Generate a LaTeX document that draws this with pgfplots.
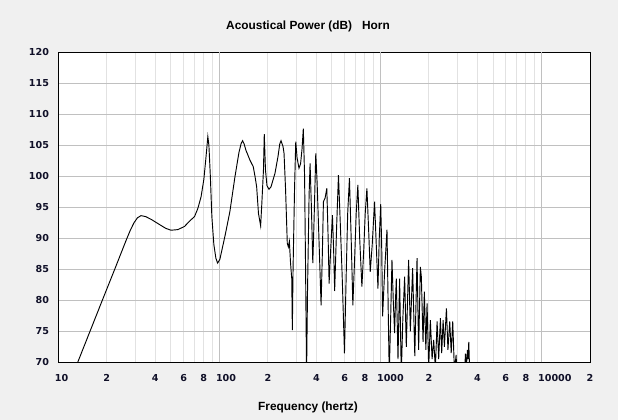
\documentclass[border=0pt]{standalone}
\usepackage{fontspec}
\setmainfont{Liberation Sans}
\newfontfamily\tickfont{DejaVu Sans}
\usepackage{pgfplots}
\pgfplotsset{compat=1.18}
\definecolor{bgc}{RGB}{240,240,240}
\definecolor{majgrid}{RGB}{192,192,192}
\definecolor{mingrid}{RGB}{226,226,226}
\definecolor{ticktxt}{RGB}{16,16,40}
\begin{document}
\begin{tikzpicture}
\fill[bgc] (0pt,0pt) rectangle (463.5pt,315pt);
\useasboundingbox (0pt,0pt) rectangle (463.5pt,315pt);
\begin{axis}[
  at={(43.72pt,43.28pt)}, anchor=south west,
  scale only axis, width=398.8pt, height=232.5pt,
  xmode=log, xmin=10, xmax=20000, ymin=70, ymax=120,
  axis background/.style={fill=white},
  axis line style={black, line width=0.75pt},
  xtick={10,20,40,60,80,100,200,400,600,800,1000,2000,4000,6000,8000,10000,20000},
  xticklabels={1\rlap{0},2,4,6,8,1\rlap{00},2,4,6,8,1\rlap{000},2,4,6,8,1\rlap{0000},2},
  minor xtick={20,30,40,50,60,70,80,90,200,300,400,500,600,700,800,900,2000,3000,4000,5000,6000,7000,8000,9000},
  xminorgrids=true, xmajorgrids=false,
  minor grid style={mingrid, line width=0.75pt},
  major grid style={majgrid, line width=0.75pt},
  extra x ticks={100,1000,10000}, extra x tick labels={},
  extra x tick style={grid=major},
  ytick={70,75,80,85,90,95,100,105,110,115,120},
  yticklabels={70,75,80,85,90,95,100,105,110,115,120},
  ymajorgrids=true,
  major tick length=0pt, minor tick length=0pt,
  /pgf/number format/assume math mode=true,
  tick label style={font=\tickfont\bfseries\fontsize{7.2}{8}\selectfont, text=ticktxt, inner sep=0pt},
  xticklabel style={anchor=north, yshift=-8.6pt},
  yticklabel style={anchor=east, xshift=-6.75pt},
]
\addplot[black, line width=0.7pt] coordinates {
(12.5,68.5) (13.2,70.0) (18.05,78.9) (22.4,85.0) (26.3,89.6) (28.0,91.3) (29.5,92.5) (31.0,93.3) (32.6,93.65)
(34.9,93.5) (38.0,93.0) (42.6,92.2) (46.5,91.6) (50.1,91.3) (55.2,91.4) (60.7,91.9) (65.5,92.8)
(70.1,93.5) (73.5,94.8) (77.0,96.7) (80.1,99.5) (82.4,102.8) (84.8,106.4) (86.1,105.0) (87.9,100)
(89.8,93.5) (92.4,89) (95.1,86.8) (97.5,86.0) (100.7,86.6) (108.2,90.3) (116.2,94.3) (124.9,99.9)
(132.2,103.8) (136.5,105.3) (139.4,105.74) (142.5,105.2) (146.2,104.2) (154.8,102.6) (162.3,101.55) (166.4,100) (170.4,98.3)
(174.9,94) (180.4,92.0) (183.8,96) (187.8,101) (190,106.8) (193.3,101) (197.5,98.5) (203.2,97.9)
(209.2,98.3) (221.5,100.5) (231.2,103.2) (237,105.2) (241.4,105.74) (248.4,104.8) (252,103.7) (257.5,98)
(264,89.2) (268,88.6) (271.9,89.5) (276.6,86) (281.4,83.5) (283.8,75.2) (286.7,85) (292.9,98) (298,105.6)
(303.6,103) (312,101.3) (319.2,102) (326.2,104.5) (332,107.7) (338.1,100) (342.9,85) (347.8,68)
(352.8,82) (360.6,97) (365.7,102.1) (372.7,95) (380.2,86.0) (387.3,93) (396.8,103.7) (404.4,99)
(416.2,89) (428,79.2) (436.2,88) (442.5,95.9) (453.4,96.5) (464.5,98.06) (473.4,90) (480,82.7)
(490.6,88) (503.4,93.75) (512.2,88) (519.6,81.5) (534.7,92) (548.7,100.2) (562.1,93) (578.5,84)
(597.9,71.45) (612.7,84) (626.0,94) (642,99.7) (658.0,90) (674,79.2) (692.0,87) (707.0,94)
(724,98.6) (743.2,90) (767,82.2) (787.2,88) (804.3,94) (824,98.06) (845.6,91) (864.0,84.6)
(889.2,89) (919,95.9) (941.7,89) (964.8,81.9) (982.9,90) (1004,95.5) (1019,88) (1031,77.4)
(1063,85) (1098,91.4) (1118,78) (1134,68) (1159,78) (1179,86.5) (1201,80) (1224,74.7)
(1240,80) (1254,83.5) (1285,70.5) (1315,83.5) (1347,68) (1377,77) (1413,83.8) (1447,72.5)
(1496,86.5) (1533,75) (1584,85.2) (1634,71) (1687,86.8) (1726,72) (1769,85.4) (1794,83.8)
(1838,73.3) (1873,81.4) (1914,72) (1947,79.5) (1993,69) (2041,76.8) (2092,70.5) (2140,73.6)
(2193,69) (2247,76.6) (2299,70.5) (2356,77.1) (2400,71.5) (2449,76.8) (2495,72.5) (2568,78.7)
(2624,72) (2692,76.6) (2750,71.5) (2810,76.6) (2879,68.5) (2950,71.2) (3006,65) (3323,68)
(3371,71.4) (3420,69.5) (3469,72) (3504,70.5) (3534,73.3) (3585,68) (3673,60) (4000,50)
};
\end{axis}
\node[anchor=base, font=\bfseries\fontsize{8.9}{10}\selectfont] at (231pt,292.5pt) {Acoustical Power (dB)\ \ \ Horn};
\node[anchor=base, font=\bfseries\fontsize{8.9}{10}\selectfont] at (231pt,7.3pt) {Frequency (hertz)};
\end{tikzpicture}
\end{document}
